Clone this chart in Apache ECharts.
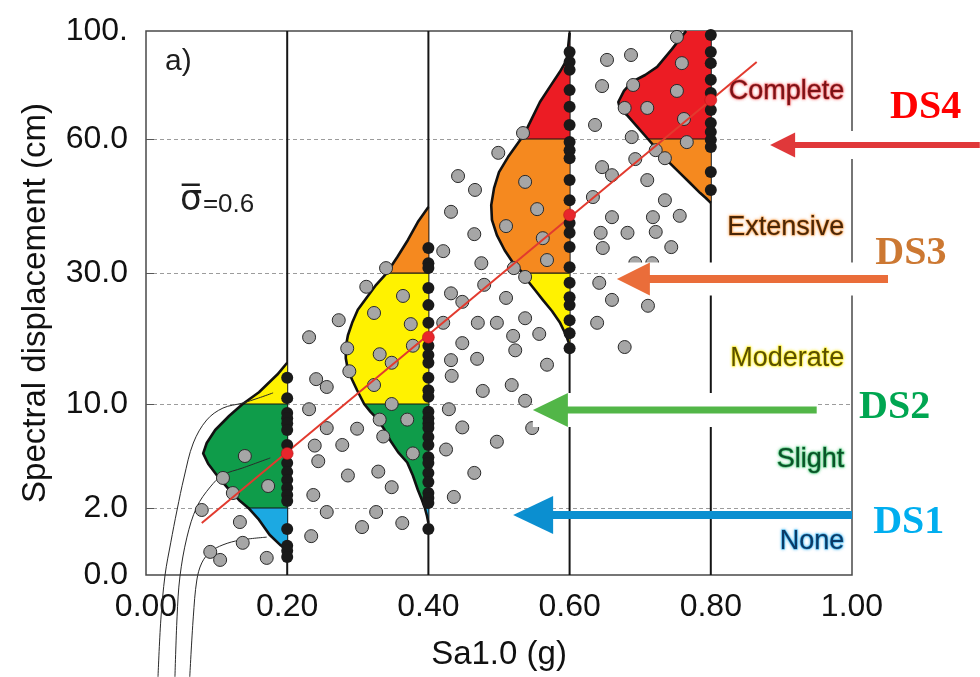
<!DOCTYPE html>
<html>
<head>
<meta charset="utf-8">
<script src="https://cdn.jsdelivr.net/npm/echarts@6/dist/echarts.min.js"></script>
<style>
  html, body { margin: 0; padding: 0; background: #fff; }
  #chart { width: 980px; height: 677px; }
</style>
</head>
<body>
<div id="chart"></div>
<script>
// ---------------- data ----------------
// intensity levels (Sa1.0, g) at which displacement distributions are evaluated
const saLevels = [0.2, 0.4, 0.6, 0.8];

// displacement axis: labelled values and damage-state thresholds (cm)
const yTickValues = [0, 2, 10, 30, 60, 100];
const yTickLabels = ['0.0', '2.0', '10.0', '30.0', '60.0', '100.'];
const bandEdges = [0, 2, 10, 30, 60, 100];
const stateNames = ['None', 'Slight', 'Moderate', 'Extensive', 'Complete'];
const stateLabelDisp = [1.0, 5.7, 17.0, 40.1, 77.4];
const dsNames = ['DS1', 'DS2', 'DS3', 'DS4'];
const dsThresholds = [2, 10, 30, 60];

// distribution outlines, top to bottom: [Sa of outline, displacement cm]
const outline02 = [[0.200,16.3],[0.186,14.5],[0.160,11.8],[0.137,10.0],[0.118,9.1],[0.098,8.0],[0.086,7.0],[0.081,6.2],[0.088,5.4],[0.102,4.4],[0.118,3.4],[0.132,2.6],[0.145,2.0],[0.160,1.65],[0.175,1.2],[0.190,0.9],[0.200,0.75]];
const outline04 = [[0.400,44.8],[0.385,41.4],[0.371,37.4],[0.356,33.6],[0.341,30.0],[0.326,28.2],[0.313,26.3],[0.300,24.4],[0.292,22.4],[0.286,20.5],[0.283,18.7],[0.283,17.0],[0.286,15.2],[0.292,13.7],[0.299,12.1],[0.309,10.0],[0.318,9.4],[0.327,8.9],[0.337,8.1],[0.346,7.2],[0.357,6.3],[0.370,5.5],[0.378,4.5],[0.385,3.4],[0.391,2.6],[0.395,2.0],[0.398,1.76],[0.400,1.55]];
const outline06 = [[0.600,99.3],[0.596,89.3],[0.586,84.8],[0.572,79.3],[0.558,73.7],[0.547,67.8],[0.538,63.0],[0.531,60.0],[0.513,56.0],[0.500,52.6],[0.493,49.0],[0.489,45.2],[0.490,41.9],[0.497,38.5],[0.508,35.1],[0.521,32.0],[0.534,30.0],[0.540,28.9],[0.551,27.4],[0.562,25.9],[0.575,24.2],[0.586,22.5],[0.595,20.5],[0.600,19.0]];
const outline08 = [[0.765,100],[0.745,93.3],[0.724,86.7],[0.707,83.7],[0.688,81.1],[0.677,77.8],[0.669,73.7],[0.671,71.5],[0.681,68.9],[0.695,64.8],[0.711,60.0],[0.728,56.9],[0.742,54.6],[0.756,52.4],[0.771,50.1],[0.785,47.9],[0.793,46.8],[0.800,45.7]];
const outlines = [outline02, outline04, outline06, outline08];

// simulated displacements at each intensity level (cm)
const simDisp02 = [14.0, 10.9, 9.3, 8.9, 8.5, 8.0, 6.85, 5.46, 4.77, 4.15, 3.54, 3.0, 2.54, 1.37, 0.87, 0.72, 0.54];
const simDisp04 = [35.6, 32.2, 31.1, 27.7, 25.1, 22.4, 18.9, 17.5, 16.3, 14.0, 12.1, 11.1, 9.4, 8.9, 8.5, 8.15, 7.46, 6.85, 5.9, 5.46, 4.7, 4.0, 3.15, 2.77, 2.38, 1.37];
const simDisp06 = [92.2, 88.5, 85.6, 78.1, 71.9, 65.2, 59.3, 57.5, 55.7, 50.8, 46.3, 41.2, 39.0, 35.8, 31.3, 28.5, 26.3, 25.1, 22.8, 20.8, 18.5];
const simDisp08 = [98.5, 92.2, 88.1, 81.9, 77.0, 70.7, 65.9, 62.6, 59.8, 58.2, 52.6, 48.6];
const simDisp = [simDisp02, simDisp04, simDisp06, simDisp08];

// median displacement at each level and the fitted trend
const medianDisp = [6.2, 20.2, 43.0, 74.4];
const trendLine = [[0.079, 1.55], [0.865, 88.5]];

// recorded (Sa, displacement) pairs
const recordPoints = [
  [0.140,6.0],[0.109,4.31],[0.123,3.15],[0.173,3.69],[0.079,1.94],[0.133,1.58],[0.091,0.69],[0.105,0.45],[0.137,0.96],[0.171,0.51],
  [0.340,31.1],[0.312,27.9],[0.364,26.5],[0.273,22.8],[0.323,23.9],[0.375,22.2],[0.231,20.2],[0.285,18.5],[0.331,17.6],[0.348,16.3],
  [0.378,18.9],[0.288,15.0],[0.241,13.8],[0.256,12.6],[0.323,12.9],[0.231,9.6],[0.348,10.0],[0.331,8.8],[0.370,8.8],[0.256,8.15],
  [0.299,8.1],[0.336,7.5],[0.378,6.2],[0.239,6.8],[0.278,6.85],[0.244,5.6],[0.286,4.5],[0.329,4.8],[0.348,3.6],[0.237,3.0],
  [0.256,1.88],[0.326,1.88],[0.306,1.43],[0.363,1.55],[0.234,1.16],
  [0.534,62.2],[0.499,56.9],[0.442,51.7],[0.466,48.6],[0.537,50.4],[0.432,43.7],[0.554,44.3],[0.510,40.5],[0.465,38.7],[0.562,37.8],
  [0.421,34.9],[0.475,32.2],[0.521,31.1],[0.568,32.9],[0.537,29.4],[0.479,28.2],[0.432,26.9],[0.448,25.6],[0.510,26.2],[0.421,22.4],
  [0.470,22.4],[0.497,22.4],[0.537,23.1],[0.448,19.3],[0.520,20.4],[0.557,20.7],[0.432,16.7],[0.469,16.9],[0.523,18.2],[0.568,16.0],
  [0.433,14.3],[0.477,12.0],[0.518,12.9],[0.537,10.5],[0.429,9.6],[0.448,8.2],[0.547,8.15],[0.497,7.1],[0.425,6.5],[0.465,4.7],[0.436,2.85],
  [0.752,97.8],[0.653,89.3],[0.687,91.1],[0.759,88.1],[0.646,79.6],[0.690,80.0],[0.752,77.8],[0.678,71.5],[0.710,71.5],[0.762,67.4],
  [0.636,65.2],[0.688,60.7],[0.766,59.3],[0.722,57.5],[0.735,55.7],[0.693,55.5],[0.646,53.7],[0.660,51.9],[0.710,50.8],[0.633,47.0],
  [0.735,46.3],[0.660,42.5],[0.718,42.5],[0.756,42.8],[0.644,39.0],[0.682,39.0],[0.722,39.2],[0.647,35.6],[0.744,35.8],[0.693,32.2],
  [0.717,32.2],[0.642,28.5],[0.660,25.9],[0.711,25.0],[0.639,22.4],[0.678,18.7]
];

// cumulative curves in the low-intensity corner
const curveA = [[0.017,-3.04],[0.021,-1.34],[0.027,0],[0.035,0.96],[0.044,1.94],[0.054,4.38],[0.067,7.0],[0.086,8.77],[0.109,9.69],[0.137,10.15],[0.159,10.9],[0.180,11.7]];
const curveB = [[0.041,-3.04],[0.044,-1.25],[0.048,-0.06],[0.058,1.13],[0.072,2.08],[0.091,3.62],[0.109,4.54],[0.137,5.08],[0.176,5.85]];
const curveC = [[0.062,-3.04],[0.067,-1.25],[0.072,-0.15],[0.079,0.36],[0.091,0.69],[0.109,0.90],[0.133,1.04],[0.171,1.13]];

// ---------------- displacement scale ----------------
// fraction of the axis height at which each labelled value sits
const yTickSpots = [0, 0.1232, 0.3143, 0.5551, 0.8015, 1];
function toAxis(v) {
  const n = yTickValues.length;
  let i = 0;
  if (v >= yTickValues[n - 1]) i = n - 2;
  else if (v > yTickValues[0]) { while (v > yTickValues[i + 1]) i++; }
  const v0 = yTickValues[i], v1 = yTickValues[i + 1];
  const s0 = yTickSpots[i], s1 = yTickSpots[i + 1];
  return s0 + (v - v0) * (s1 - s0) / (v1 - v0);
}
const toXY = p => [p[0], toAxis(p[1])];

// ---------------- styling ----------------
const FONT = "'Liberation Sans', Arial, Helvetica, sans-serif";
const SERIF = "'Liberation Serif', 'Times New Roman', serif";
const bandFill = ['#1ca9e2', '#0f9c4a', '#fff200', '#f5891f', '#ec1c24'];
const stateStyle = [
  { color: '#0b3a66', glow: 'rgba(40,170,235,0.75)' },
  { color: '#0b5228', glow: 'rgba(50,190,100,0.75)' },
  { color: '#5a5000', glow: 'rgba(255,240,40,0.9)' },
  { color: '#4a2606', glow: 'rgba(245,150,60,0.75)' },
  { color: '#7a1216', glow: 'rgba(235,70,72,0.7)' }
];
// arrows: tip/tail in Sa units, drop = px below the threshold line
const arrowLayout = [
  { tip: 0.520, tail: 1.000, drop: 7, headLen: 40, headHalf: 19, shaft: 8, backing: 0,    color: '#0b8fd0', text: '#00aeef', textSa: 1.030, textDy: 8 },
  { tip: 0.548, tail: 0.950, drop: 6, headLen: 35, headHalf: 17, shaft: 7, backing: 17,   color: '#52b648', text: '#00a651', textSa: 1.010, textDy: -2 },
  { tip: 0.667, tail: 1.051, drop: 6, headLen: 33, headHalf: 16.5, shaft: 8, backing: 16.5, color: '#ea6d3a', text: '#cc7832', textSa: 1.033, textDy: -25 },
  { tip: 0.884, tail: 1.181, drop: 6, headLen: 25, headHalf: 12.5, shaft: 6, backing: 14, color: '#e0383a', text: '#ff0000', textSa: 1.054, textDy: -37 }
];

const chart = echarts.init(document.getElementById('chart'));

function renderDistribution(params, api) {
  const idx = api.value(1);
  const base = saLevels[idx];
  const pts = outlines[idx];
  const children = [];
  // baseline of the distribution
  const b0 = api.coord([base, toAxis(0)]);
  const b1 = api.coord([base, toAxis(100)]);
  children.push({ type: 'line', shape: { x1: b0[0], y1: b0[1], x2: b1[0], y2: b1[1] },
    style: { stroke: '#151515', lineWidth: 2 } });
  // band fills
  for (let b = 0; b < bandEdges.length - 1; b++) {
    const lo = bandEdges[b], hi = bandEdges[b + 1];
    const inBand = pts.filter(p => p[1] >= lo - 1e-9 && p[1] <= hi + 1e-9);
    if (inBand.length < 2) continue;
    const poly = [api.coord([base, toAxis(inBand[0][1])])]
      .concat(inBand.map(p => api.coord(toXY(p))))
      .concat([api.coord([base, toAxis(inBand[inBand.length - 1][1])])]);
    children.push({ type: 'polygon', shape: { points: poly }, style: { fill: bandFill[b] } });
  }
  // band divisions inside the distribution
  pts.forEach(p => {
    const k = bandEdges.indexOf(p[1]);
    if (k > 0 && k < bandEdges.length - 1) {
      const a = api.coord(toXY(p));
      const c = api.coord([base, toAxis(p[1])]);
      children.push({ type: 'line', shape: { x1: a[0], y1: a[1], x2: c[0], y2: c[1] },
        style: { stroke: '#151515', lineWidth: 1.2 } });
    }
  });
  // outline
  children.push({ type: 'polyline', shape: { points: pts.map(p => api.coord(toXY(p))) },
    style: { stroke: '#111', lineWidth: 2.6, fill: null, lineJoin: 'round' } });
  return { type: 'group', children };
}

function renderArrow(params, api) {
  const i = api.value(0);
  const a = arrowLayout[i];
  const tip = api.coord([a.tip, toAxis(dsThresholds[i])]);
  const tail = api.coord([a.tail, toAxis(dsThresholds[i])]);
  const y = tip[1] + a.drop;
  const x0 = tip[0], x1 = tail[0];
  const children = [];
  if (a.backing > 0) {
    children.push({ type: 'rect', shape: { x: x0, y: y - a.backing, width: x1 - x0, height: a.backing * 2 },
      style: { fill: '#ffffff' } });
  }
  children.push({ type: 'rect', shape: { x: x0 + a.headLen - 1, y: y - a.shaft / 2, width: x1 - x0 - a.headLen + 1, height: a.shaft },
    style: { fill: a.color } });
  children.push({ type: 'polygon', shape: { points: [[x0, y], [x0 + a.headLen, y - a.headHalf], [x0 + a.headLen, y + a.headHalf]] },
    style: { fill: a.color } });
  const tx = api.coord([a.textSa, 0])[0];
  children.push({ type: 'text', x: tx, y: y + a.textDy,
    style: { text: dsNames[i], fill: a.text, font: 'bold 40px ' + SERIF, align: 'left', verticalAlign: 'middle' } });
  return { type: 'group', children };
}

// panel tag and dispersion note, anchored in data space
const notes = [
  { at: [0.027, 88.5], parts: [{ text: 'a)', size: 30, family: FONT, dx: 0, dy: 0 }] },
  { at: [0.048, 45.4], parts: [
      { text: 'σ\u0305', size: 35, family: "'DejaVu Sans', sans-serif", dx: 0, dy: -3 },
      { text: '=0.6', size: 26, family: FONT, dx: 23, dy: 1 } ] }
];
function renderNote(params, api) {
  const n = notes[api.value(0)];
  const p = api.coord(toXY(n.at));
  return { type: 'group', children: n.parts.map(t => ({
    type: 'text', x: p[0] + t.dx, y: p[1] + t.dy,
    style: { text: t.text, fill: '#1e1e1e', font: t.size + 'px ' + t.family, align: 'left', verticalAlign: 'middle' }
  })) };
}

const simData = [];
simDisp.forEach((arr, k) => arr.forEach(v => simData.push([saLevels[k], toAxis(v)])));

const stateLabelData = stateNames.map((name, k) => ({
  value: [0.989, toAxis(stateLabelDisp[k])],
  label: {
    formatter: name, color: stateStyle[k].color,
    textBorderColor: stateStyle[k].glow, textBorderWidth: 1,
    textShadowColor: stateStyle[k].glow, textShadowBlur: 3
  }
}));

const curveStyle = { color: '#2a2a2a', width: 1 };

const option = {
  animation: false,
  backgroundColor: '#ffffff',
  grid: { left: 146, right: 128, top: 31, bottom: 102, show: true,
          borderColor: '#4a4a4a', borderWidth: 1.5, backgroundColor: 'transparent' },
  xAxis: {
    type: 'value', min: 0, max: 1, interval: 0.2,
    name: 'Sa1.0 (g)', nameLocation: 'middle', nameGap: 63,
    nameTextStyle: { fontSize: 33, color: '#111', fontFamily: FONT },
    axisLine: { show: false }, axisTick: { show: false }, splitLine: { show: false },
    axisLabel: { fontSize: 32, color: '#111', fontFamily: FONT, margin: 16, formatter: v => v.toFixed(2) }
  },
  yAxis: {
    type: 'value', min: 0, max: 1,
    name: 'Spectral displacement (cm)', nameLocation: 'middle', nameGap: 94, nameRotate: 90,
    nameTextStyle: { fontSize: 33, color: '#111', fontFamily: FONT },
    axisLine: { show: false },
    axisTick: { show: true, inside: true, length: 8, customValues: yTickSpots.slice(1, -1),
                lineStyle: { color: '#555', width: 1 } },
    axisLabel: {
      customValues: yTickSpots, fontSize: 32, color: '#111', fontFamily: FONT, margin: 18,
      padding: [0, 0, 8, 0],
      formatter: v => {
        const k = yTickSpots.findIndex(s => Math.abs(s - v) < 1e-6);
        return k >= 0 ? yTickLabels[k] : '';
      }
    },
    splitLine: { show: true, lineStyle: { color: '#9c9c9c', type: [4, 3], width: 1 } }
  },
  series: [
    { type: 'custom', name: 'distributions', z: 2, clip: false,
      data: saLevels.map((s, i) => [s, i]), renderItem: renderDistribution },
    { type: 'line', z: 3, clip: false, symbol: 'none', smooth: 0.35, lineStyle: curveStyle, data: curveA.map(toXY) },
    { type: 'line', z: 3, clip: false, symbol: 'none', smooth: 0.35, lineStyle: curveStyle, data: curveB.map(toXY) },
    { type: 'line', z: 3, clip: false, symbol: 'none', smooth: 0.35, lineStyle: curveStyle, data: curveC.map(toXY) },
    { type: 'scatter', name: 'records', z: 4, symbolSize: 13,
      itemStyle: { color: '#a6a6a6', borderColor: '#2a2a2a', borderWidth: 1, opacity: 1 },
      data: recordPoints.map(toXY) },
    { type: 'line', name: 'trend', z: 5, symbol: 'none', lineStyle: { color: '#e23a2e', width: 2 },
      data: trendLine.map(toXY) },
    { type: 'scatter', name: 'simulated', z: 6, symbolSize: 12,
      itemStyle: { color: '#1a1a1a', opacity: 1 }, data: simData },
    { type: 'scatter', name: 'median', z: 7, symbolSize: 12,
      itemStyle: { color: '#e8262c', borderColor: '#b01010', borderWidth: 0.5, opacity: 1 },
      data: medianDisp.map((v, k) => [saLevels[k], toAxis(v)]) },
    { type: 'scatter', name: 'states', z: 8, symbolSize: 0, silent: true,
      itemStyle: { opacity: 1 },
      label: { show: true, position: 'left', distance: 0, fontSize: 27, fontFamily: FONT },
      data: stateLabelData },
    { type: 'custom', name: 'notes', z: 8, clip: false, silent: true,
      data: notes.map((n, i) => [i]), renderItem: renderNote },
    { type: 'custom', name: 'thresholds', z: 10, clip: false,
      data: dsNames.map((d, i) => [i]), renderItem: renderArrow }
  ]
};

chart.setOption(option);
</script>
</body>
</html>
